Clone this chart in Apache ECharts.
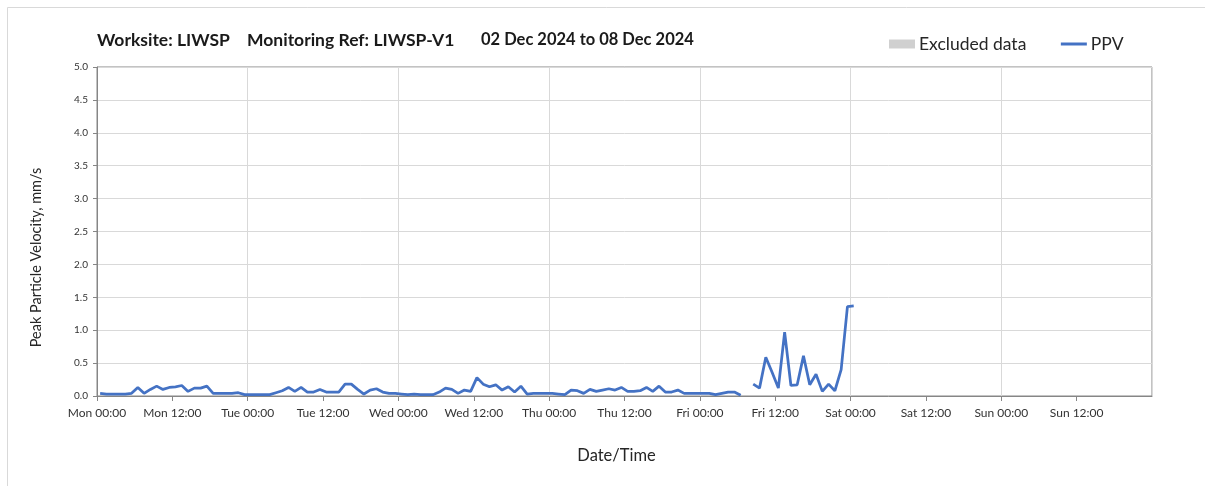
<!DOCTYPE html>
<html>
<head>
<meta charset="utf-8">
<script src="https://cdn.jsdelivr.net/npm/echarts@6/dist/echarts.min.js"></script>
<style>
  html, body { margin: 0; padding: 0; background: #ffffff; }
  #chart { width: 1205px; height: 486px; }
</style>
</head>
<body>
<div id="chart"></div>
<script>
// Heading pieces
const titleParts = ['Worksite: LIWSP', 'Monitoring Ref: LIWSP-V1', '02 Dec 2024 to 08 Dec 2024'];

// Week runs Mon 00:00 -> next Mon 00:00, ticks every 12 h
const dayNames = ['Mon', 'Tue', 'Wed', 'Thu', 'Fri', 'Sat', 'Sun'];
const tickTimes = ['00:00', '12:00'];
const weekHours = 168;

// Hourly PPV readings (mm/s), first one at Mon 00:30; null = no reading
const firstReadingHour = 0.5;
const ppv = [
  0.04, 0.03, 0.03, 0.03, 0.03, 0.04, 0.13, 0.04, 0.10, 0.15, 0.10, 0.13,
  0.14, 0.16, 0.07, 0.12, 0.12, 0.15, 0.04, 0.04, 0.04, 0.04, 0.05, 0.02,
  0.02, 0.02, 0.02, 0.02, 0.05, 0.08, 0.13, 0.07, 0.13, 0.06, 0.06, 0.10,
  0.06, 0.06, 0.06, 0.18, 0.18, 0.10, 0.03, 0.09, 0.11, 0.06, 0.04, 0.04,
  0.03, 0.02, 0.03, 0.02, 0.02, 0.02, 0.06, 0.12, 0.10, 0.04, 0.09, 0.07,
  0.28, 0.18, 0.14, 0.17, 0.09, 0.14, 0.06, 0.15, 0.03, 0.04, 0.04, 0.04,
  0.04, 0.03, 0.02, 0.09, 0.08, 0.04, 0.10, 0.07, 0.09, 0.11, 0.09, 0.13,
  0.07, 0.07, 0.08, 0.13, 0.07, 0.15, 0.06, 0.06, 0.09, 0.04, 0.04, 0.04,
  0.04, 0.04, 0.02, 0.04, 0.06, 0.06, 0.01, null,
  0.18, 0.12, 0.59, 0.36, 0.12, 0.97, 0.16, 0.17, 0.61, 0.17, 0.33, 0.07,
  0.18, 0.08, 0.40, 1.36, 1.37
];

const seriesData = ppv.map((v, i) => [firstReadingHour + i, v]);

const FONT = 'Lato, "Open Sans", sans-serif';
const TEXT = '#262626';
const AXIS = '#868686';
const GRID = '#d9d9d9';
const BLUE = '#4472c4';

const chart = echarts.init(document.getElementById('chart'), null, { renderer: 'canvas' });

chart.setOption({
  animation: false,
  backgroundColor: '#ffffff',
  textStyle: { fontFamily: FONT },
  graphic: [{
    type: 'rect',
    shape: { x: 7.5, y: 7.5, width: 1400, height: 700 },
    style: { fill: 'none', stroke: GRID, lineWidth: 1 },
    silent: true,
    z: -1
  }],
  title: [
    { text: titleParts[0], left: 97, top: 31, size: 17.5 },
    { text: titleParts[1], left: 247, top: 31, size: 17.5 },
    { text: titleParts[2], left: 481, top: 31, size: 16.5 }
  ].map(t => ({
    text: t.text, left: t.left, top: t.top,
    padding: 0,
    textStyle: { fontFamily: FONT, fontSize: t.size, fontWeight: 'bold', color: '#1a1a1a' }
  })),
  legend: {
    left: 889,
    top: 35,
    padding: 0,
    itemWidth: 26,
    itemHeight: 9,
    itemGap: 33,
    textStyle: { fontFamily: FONT, fontSize: 17.5, color: TEXT, padding: [0, 0, 0, -1] },
    data: [
      { name: 'Excluded data', icon: 'rect' },
      { name: 'PPV', itemStyle: { opacity: 0 }, lineStyle: { color: BLUE, width: 3 } }
    ]
  },
  grid: {
    left: 97, right: 53, top: 67, bottom: 90,
    show: true,
    borderColor: AXIS,
    borderWidth: 1
  },
  xAxis: [{
    type: 'value',
    min: 0, max: weekHours, interval: 12,
    name: 'Date/Time',
    nameLocation: 'middle',
    nameGap: 51,
    nameTextStyle: { fontFamily: FONT, fontSize: 16.5, color: TEXT, padding: [0, 16, 0, 0] },
    axisLine: { show: true, lineStyle: { color: AXIS, width: 1 } },
    axisTick: { show: true, inside: false, length: 5, lineStyle: { color: AXIS } },
    axisLabel: {
      margin: 11,
      fontFamily: FONT, fontSize: 12, color: '#333333',
      showMaxLabel: false,
      formatter: h => h >= weekHours ? '' :
        dayNames[Math.floor(h / 24) % 7] + ' ' + tickTimes[(h % 24) / 12]
    },
    splitLine: { show: false }
  }, {
    // daily vertical gridlines
    type: 'value',
    position: 'bottom',
    min: 0, max: weekHours, interval: 24,
    axisLine: { show: false },
    axisTick: { show: false },
    axisLabel: { show: false },
    splitLine: { show: true, lineStyle: { color: GRID, width: 1 } }
  }],
  yAxis: {
    type: 'value',
    min: 0, max: 5, interval: 0.5,
    name: 'Peak Particle Velocity, mm/s',
    nameLocation: 'middle',
    nameGap: 53,
    nameTextStyle: { fontFamily: FONT, fontSize: 14.5, color: TEXT, padding: [0, 52, 0, 0] },
    axisLine: { show: true, lineStyle: { color: AXIS, width: 1 } },
    axisTick: { show: true, inside: false, length: 4, lineStyle: { color: AXIS } },
    axisLabel: {
      margin: 9,
      fontFamily: FONT, fontSize: 10, color: '#333333',
      formatter: v => v.toFixed(1)
    },
    splitLine: { show: true, lineStyle: { color: GRID, width: 1 } }
  },
  series: [{
    name: 'Excluded data',
    type: 'bar',
    xAxisIndex: 0,
    data: [],
    itemStyle: { color: '#d0d0d0' }
  }, {
    name: 'PPV',
    type: 'line',
    xAxisIndex: 0,
    data: seriesData,
    symbol: 'none',
    connectNulls: false,
    lineStyle: { color: BLUE, width: 2.75 },
    itemStyle: { color: BLUE },
    z: 5
  }]
});
</script>
</body>
</html>
